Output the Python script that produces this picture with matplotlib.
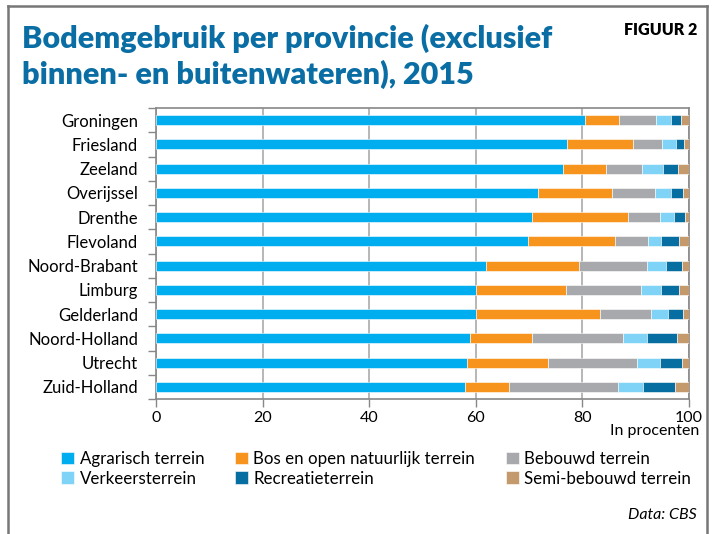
import numpy as np
import matplotlib.pyplot as plt
from matplotlib.lines import Line2D

plt.rcParams['font.family'] = ['Lato', 'DejaVu Sans']

provincies = ['Groningen', 'Friesland', 'Zeeland', 'Overijssel', 'Drenthe',
              'Flevoland', 'Noord-Brabant', 'Limburg', 'Gelderland',
              'Noord-Holland', 'Utrecht', 'Zuid-Holland']

# aandeel per type bodemgebruik, in procenten
agrarisch = [80.4, 77.1, 76.4, 71.6, 70.6, 69.7, 61.9, 60.1, 60.0, 58.9, 58.4, 57.9]
bos_natuur = [6.5, 12.4, 8.0, 14.0, 18.0, 16.4, 17.5, 16.8, 23.3, 11.7, 15.2, 8.3]
bebouwd = [6.9, 5.4, 6.7, 8.0, 5.9, 6.2, 12.7, 14.1, 9.5, 17.0, 16.6, 20.4]
verkeer = [2.9, 2.6, 4.1, 3.1, 2.6, 2.5, 3.6, 3.7, 3.3, 4.5, 4.3, 4.7]
recreatie = [1.8, 1.6, 2.7, 2.2, 2.2, 3.3, 2.9, 3.4, 2.8, 5.6, 4.2, 6.1]
semi_bebouwd = [1.5, 0.9, 2.1, 1.1, 0.7, 1.9, 1.4, 1.9, 1.1, 2.3, 1.3, 2.6]

series = [
    ('Agrarisch terrein', agrarisch, '#00aeef'),
    ('Bos en open natuurlijk terrein', bos_natuur, '#f7941d'),
    ('Bebouwd terrein', bebouwd, '#a7a9ac'),
    ('Verkeersterrein', verkeer, '#7fd3f7'),
    ('Recreatieterrein', recreatie, '#066ea0'),
    ('Semi-bebouwd terrein', semi_bebouwd, '#c49a6c'),
]

fig = plt.figure(figsize=(7.14, 5.34), dpi=100)
ax = fig.add_axes([156 / 714, 1 - 399 / 534, 533 / 714, 291 / 534])

y = np.arange(len(provincies))
left = np.zeros(len(provincies))
handles = {}
for name, vals, col in series:
    vals = np.array(vals)
    b = ax.barh(y, vals, left=left, height=0.42, color=col,
                edgecolor='white', linewidth=0.4, label=name, zorder=3)
    handles[name] = b
    left += vals

ax.set_xlim(0, 100)
ax.set_ylim(len(provincies) - 0.5, -0.5)
ax.set_xticks(range(0, 101, 20))
ax.set_yticks(y)
ax.set_yticklabels(provincies, fontsize=12)
ax.set_yticks(np.arange(-0.5, len(provincies), 1), minor=True)
ax.tick_params(axis='y', which='major', length=0, pad=13)
ax.tick_params(axis='y', which='minor', length=6, color='#888888', width=1)
ax.tick_params(axis='x', length=6, color='#888888', width=1, labelsize=11.5, pad=3)
ax.xaxis.grid(True, color='#aaaaaa', linewidth=1.2, zorder=0)
for s in ax.spines.values():
    s.set_color('#888888')
    s.set_linewidth(1.2)

fig.text(699 / 714, 1 - 431 / 534, 'In procenten', ha='right', va='center', fontsize=11.5)

# legenda, kolomsgewijs gevuld
order = ['Agrarisch terrein', 'Verkeersterrein', 'Bos en open natuurlijk terrein',
         'Recreatieterrein', 'Bebouwd terrein', 'Semi-bebouwd terrein']
fig.legend([handles[n] for n in order], order, ncol=3, frameon=False,
           loc='upper left', bbox_to_anchor=(49 / 714, 1 - 439 / 534),
           fontsize=12.2, handlelength=0.78, handleheight=0.78,
           handletextpad=0.32, columnspacing=1.8, labelspacing=0.22,
           borderpad=0.2)

fig.text(22 / 714, 1 - 48 / 534, 'Bodemgebruik per provincie (exclusief',
         fontsize=22, fontweight='heavy', color='#0a6ea4', ha='left', va='baseline')
fig.text(22 / 714, 1 - 84 / 534, 'binnen- en buitenwateren), 2015',
         fontsize=22, fontweight='heavy', color='#0a6ea4', ha='left', va='baseline')
fig.text(697 / 714, 1 - 30 / 534, 'FIGUUR 2', fontsize=11.5, fontweight='heavy',
         ha='right', va='center')
fig.text(697 / 714, 1 - 515 / 534, 'Data: CBS', fontsize=11.5, style='italic',
         ha='right', va='center')

# kader rond de figuur
for xs, ys in [([8, 8], [534, 6]), ([8, 707], [6, 6]), ([707, 707], [6, 534])]:
    fig.add_artist(Line2D([x / 714 for x in xs], [1 - v / 534 for v in ys],
                          color='#777777', linewidth=1.8))

fig.savefig('out.png', dpi=100)
